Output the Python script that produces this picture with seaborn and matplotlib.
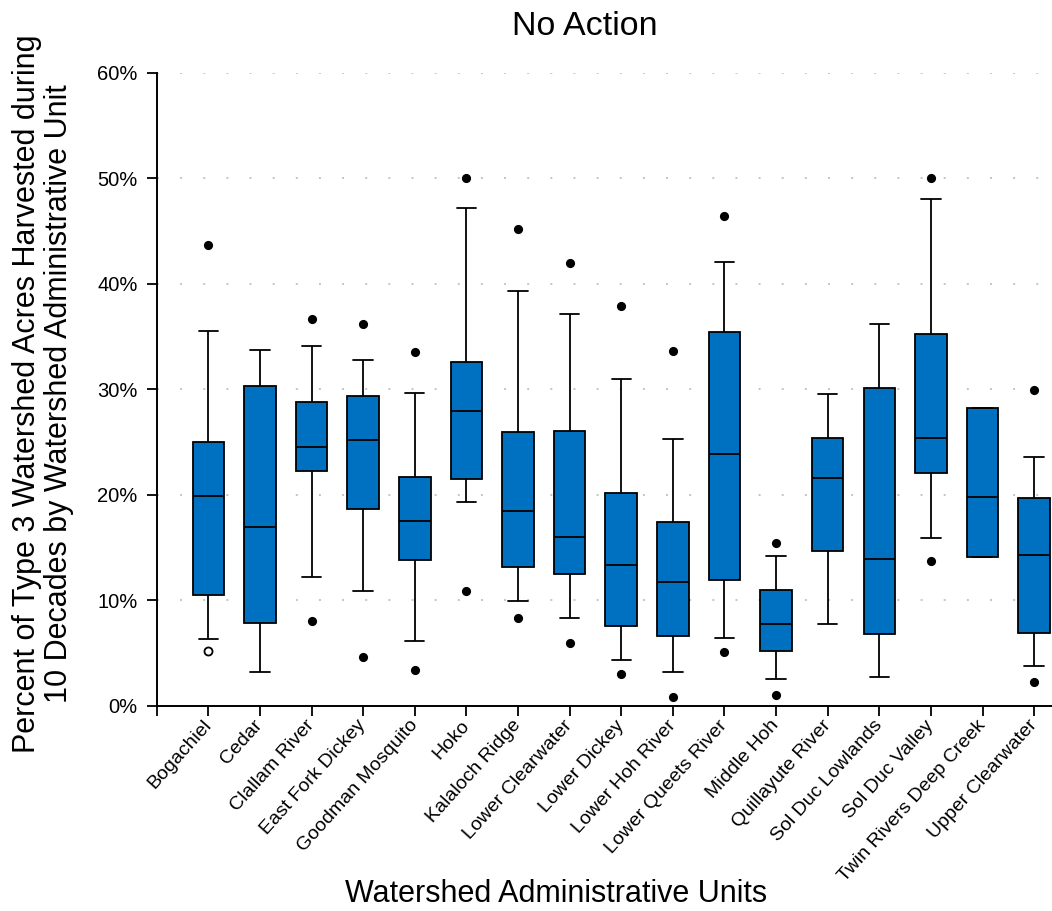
import matplotlib
matplotlib.use("Agg")
import matplotlib.pyplot as plt
import matplotlib.transforms as mtransforms
import numpy as np
import pandas as pd
import seaborn as sns

# Watershed administrative units (x categories)
units = [
    "Bogachiel", "Cedar", "Clallam River", "East Fork Dickey", "Goodman Mosquito",
    "Hoko", "Kalaloch Ridge", "Lower Clearwater", "Lower Dickey", "Lower Hoh River",
    "Lower Queets River", "Middle Hoh", "Quillayute River", "Sol Duc Lowlands",
    "Sol Duc Valley", "Twin Rivers Deep Creek", "Upper Clearwater",
]

# Box summaries (% of Type 3 watershed acres harvested)
whisker_low = [6.35, 3.2, 12.2, 10.9, 6.1, 19.35, 9.95, 8.35, 4.3, 3.15, 6.45, 2.5, 7.7, 2.7, 15.9, 14.1, 3.75]
q1 = [10.5, 7.8, 22.2, 18.65, 13.85, 21.5, 13.15, 12.5, 7.55, 6.6, 11.95, 5.2, 14.65, 6.75, 22.05, 14.1, 6.85]
median = [19.85, 16.9, 24.55, 25.2, 17.55, 27.95, 18.45, 16.0, 13.35, 11.7, 23.9, 7.7, 21.6, 13.95, 25.4, 19.8, 14.25]
q3 = [24.95, 30.35, 28.8, 29.4, 21.7, 32.55, 25.95, 26.05, 20.15, 17.4, 35.4, 10.95, 25.35, 30.15, 35.2, 28.25, 19.65]
whisker_high = [35.5, 33.7, 34.1, 32.75, 29.6, 47.2, 39.3, 37.15, 30.95, 25.3, 42.1, 14.15, 29.5, 36.2, 48.05, 28.25, 23.6]

# Outlying values
outlier_unit = [
    "Bogachiel", "Clallam River", "Clallam River", "East Fork Dickey", "East Fork Dickey",
    "Goodman Mosquito", "Goodman Mosquito", "Hoko", "Hoko", "Kalaloch Ridge", "Kalaloch Ridge",
    "Lower Clearwater", "Lower Clearwater", "Lower Dickey", "Lower Dickey",
    "Lower Hoh River", "Lower Hoh River", "Lower Queets River", "Lower Queets River",
    "Middle Hoh", "Middle Hoh", "Sol Duc Valley", "Sol Duc Valley",
    "Upper Clearwater", "Upper Clearwater",
]
outlier_value = [
    43.7, 36.7, 8.0, 36.2, 4.6,
    33.55, 3.4, 50.0, 10.9, 45.2, 8.3,
    41.95, 5.9, 37.9, 3.0,
    33.65, 0.85, 46.4, 5.05,
    15.4, 1.0, 50.0, 13.7,
    29.95, 2.2,
]
mild_unit = ["Bogachiel"]
mild_value = [5.2]

y_ticks = [0, 10, 20, 30, 40, 50, 60]

# Long table: five summary points per unit give exact quartiles
rows = []
for u, lo, a, m, b, hi in zip(units, whisker_low, q1, median, q3, whisker_high):
    for v in (lo, a, m, b, hi):
        rows.append({"unit": u, "pct": v})
df = pd.DataFrame(rows)

sns.set_style("ticks")
plt.rcParams["font.family"] = ["Liberation Sans", "DejaVu Sans"]
plt.rcParams["text.color"] = "black"
plt.rcParams["axes.labelcolor"] = "black"
plt.rcParams["xtick.color"] = "black"
plt.rcParams["ytick.color"] = "black"

W, H = 1052, 911
fig = plt.figure(figsize=(W / 100, H / 100), dpi=100)
ax_left, ax_bottom, ax_top = 156.7, 705.7, 72.7
ax = fig.add_axes([ax_left / W, 1 - ax_bottom / H, (W - ax_left) / W, (ax_bottom - ax_top) / H])

box_color = "#0070C0"
sns.boxplot(
    data=df, x="unit", y="pct", order=units, whis=(0, 100), width=0.61,
    color=box_color, saturation=1, linecolor="black", linewidth=1.3,
    showfliers=False, capwidths=0.375, ax=ax,
)
sns.stripplot(
    x=outlier_unit, y=outlier_value, order=units, jitter=False, color="black",
    size=6.6, linewidth=0, ax=ax, zorder=5,
)
sns.stripplot(
    x=mild_unit, y=mild_value, order=units, jitter=False, color="white",
    edgecolor="black", linewidth=1.3, size=5.8, ax=ax, zorder=5,
)

ax.set_xlim(-1, (W - 207.7) / 51.65)
ax.set_ylim(0, 60)
ax.set_xticks(range(-1, len(units)))
ax.set_xticklabels([""] + units, rotation=48, ha="right", va="center",
                   rotation_mode="anchor", fontsize=14)
shift = mtransforms.ScaledTranslation(5 / 100, 0, fig.dpi_scale_trans)
for lab in ax.get_xticklabels():
    lab.set_transform(lab.get_transform() + shift)
ax.set_yticks(y_ticks)
ax.set_yticklabels([f"{t}%" for t in y_ticks], fontsize=14.5)
ax.tick_params(axis="both", length=7.2, width=1.3, color="black", labelcolor="black")
ax.tick_params(axis="y", pad=6.5)
ax.tick_params(axis="x", pad=5)

for side in ("top", "right"):
    ax.spines[side].set_visible(False)
for side in ("left", "bottom"):
    ax.spines[side].set_linewidth(1.4)
    ax.spines[side].set_color("black")

ax.yaxis.grid(True, linestyle=(0, (1, 10.9)), color="#c4c4c4", linewidth=1.4)
ax.set_axisbelow(True)

ax.set_ylabel("Percent of Type 3 Watershed Acres Harvested during\n"
              "10 Decades by Watershed Administrative Unit",
              fontsize=22, linespacing=1.08, color="black")
ax.yaxis.set_label_coords((74 - ax_left) / (W - ax_left), (ax_bottom - 394) / (ax_bottom - ax_top))
ax.set_xlabel("Watershed Administrative Units", fontsize=22, color="black")
ax.xaxis.set_label_coords((556 - ax_left) / (W - ax_left), (ax_bottom - 879) / (ax_bottom - ax_top))

fig.text(585 / W, 1 - 35 / H, "No Action", fontsize=24.5, ha="center", va="baseline",
         color="black")

fig.savefig("out.png", dpi=100)
